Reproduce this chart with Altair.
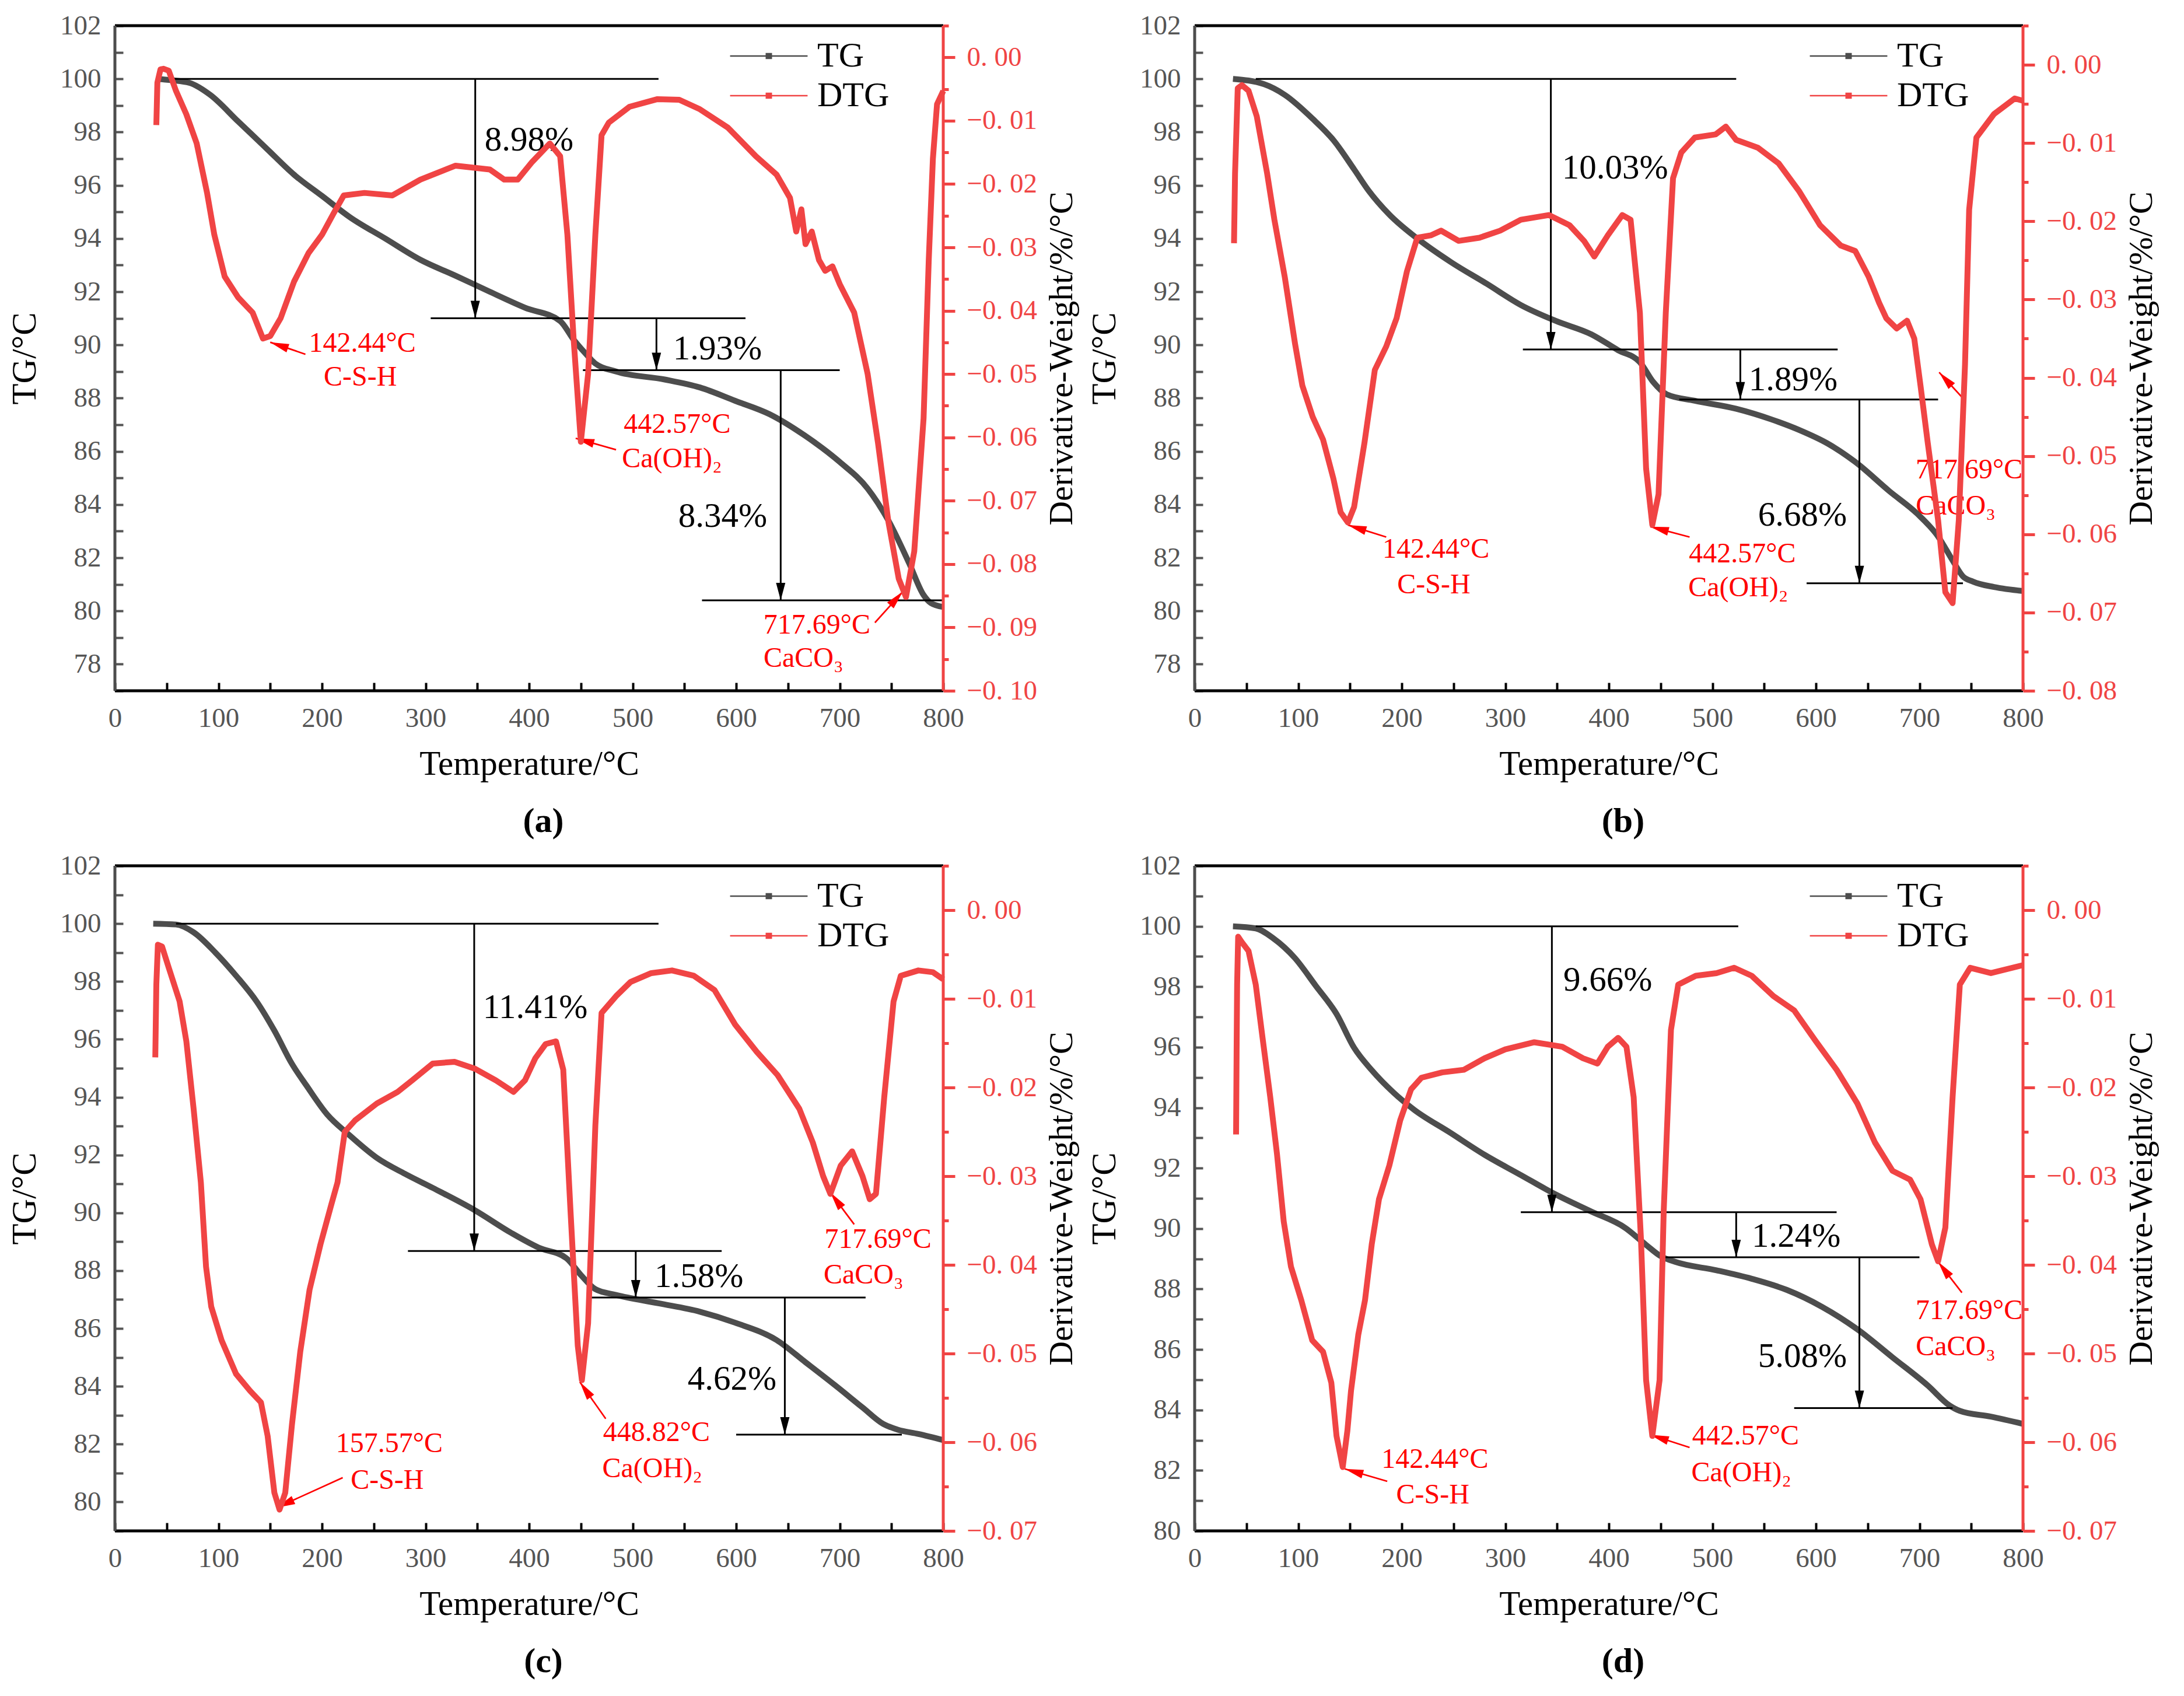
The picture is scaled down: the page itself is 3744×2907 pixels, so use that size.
import math
import altair as alt
import pandas as pd

FONT = "Liberation Serif"
W, H = 1420, 1140
TG_COLOR = "#4d4d4d"
DTG_COLOR = "#f04444"
NOTE_RED = "#ff0000"
AX_GRAY = "#555555"

# ---------------- (a) ----------------
A_TG_T = [40, 55, 72, 92, 119, 146, 173, 200, 227, 261, 295, 329, 362, 396, 430, 443, 454, 464, 484,
          531, 565, 599, 632, 666, 700, 727, 747, 767, 781, 788, 800]
A_TG = [100.0, 99.95, 99.85, 99.4, 98.4, 97.4, 96.4, 95.6, 94.8, 94.0, 93.2, 92.6, 92.0, 91.4, 90.9, 90.2,
        89.7, 89.3, 89.0, 88.7, 88.4, 87.9, 87.4, 86.6, 85.6, 84.6, 83.4, 81.8, 80.6, 80.3, 80.15]
A_DTG_T = [40, 41, 44, 47, 52, 59, 69, 79, 89, 96, 106, 119, 133, 143, 150, 160, 173, 187, 200, 211, 221,
           241, 268, 295, 329, 362, 376, 389, 403, 420, 430, 437, 443, 450, 457, 464, 470, 477, 497, 524,
           545, 565, 592, 619, 639, 652, 658, 663, 667, 673, 680, 686, 693, 700, 714, 727, 737, 747, 757,
           764, 772, 781, 786, 790, 794, 800]
A_DTG = [-0.0107, -0.004, -0.0019, -0.0018, -0.0021, -0.0053, -0.009, -0.0136, -0.0214, -0.028, -0.0346,
         -0.0379, -0.0403, -0.0444, -0.044, -0.0412, -0.0354, -0.0309, -0.028, -0.0247, -0.0218, -0.0214,
         -0.0218, -0.0193, -0.0171, -0.0177, -0.0193, -0.0193, -0.0165, -0.0136, -0.0156, -0.028, -0.0444,
         -0.0607, -0.050, -0.028, -0.0123, -0.0103, -0.0078, -0.0066, -0.0067, -0.0082, -0.0111, -0.0156,
         -0.0185, -0.0222, -0.0275, -0.0240, -0.0295, -0.0275, -0.032, -0.0337, -0.0330, -0.0358, -0.0403,
         -0.050, -0.0609, -0.0733, -0.0823, -0.0852, -0.078, -0.057, -0.032, -0.016, -0.0074, -0.0053]
A_STEP_X0 = [52, 305, 452, 567]
A_STEP_X1 = [525, 609, 700, 800]
A_STEP_Y = [100, 91.0, 89.05, 80.4]
A_ARROW_X = [348, 523, 643]
A_PCT = ["8.98%", "1.93%", "8.34%"]
A_PCT_X = [400, 582, 587]
A_PCT_Y = [97.7, 89.85, 83.55]
A_NOTE = ["142.44°C", "C-S-H", "442.57°C", "Ca(OH)₂", "717.69°C", "CaCO₃"]
A_NOTE_X = [239, 237, 543, 538, 678, 665]
A_NOTE_Y = [90.05, 88.77, 87.0, 85.7, 79.46, 78.2]
A_PTR_X0 = [184, 484, 734]
A_PTR_Y0 = [89.65, 86.06, 79.56]
A_PTR_X1 = [150, 445, 761]
A_PTR_Y1 = [90.1, 86.49, 80.73]

# ---------------- (b) ----------------
B_TG_T = [37, 67, 87, 114, 134, 154, 168, 188, 215, 248, 282, 315, 349, 383, 409, 430, 443, 456, 483, 523,
          557, 584, 611, 638, 671, 698, 718, 732, 742, 752, 772, 800]
B_TG = [100.0, 99.8, 99.4, 98.5, 97.7, 96.6, 95.8, 94.9, 94.0, 93.1, 92.3, 91.5, 90.9, 90.4, 89.8, 89.35,
        88.6, 88.14, 87.9, 87.6, 87.2, 86.8, 86.3, 85.6, 84.5, 83.65, 82.8, 81.9, 81.3, 81.1, 80.9, 80.75]
B_DTG_T = [38, 38.5, 39, 41.6, 45.6, 52, 60, 70, 77, 87, 97, 104, 114, 124, 134, 141, 148, 154, 164, 174,
           185, 195, 205, 215, 228, 238, 255, 275, 295, 315, 342, 362, 376, 386, 399, 413, 421, 430, 436,
           442, 448, 455, 462, 470, 483, 503, 513, 523, 544, 564, 584, 604, 624, 638, 651, 661, 668, 678,
           688, 695, 701, 708, 718, 725, 732, 738, 744, 748, 755, 772, 792, 800]
B_DTG = [-0.0228, -0.0185, -0.0139, -0.003, -0.0026, -0.0033, -0.0066, -0.0139, -0.0198, -0.0271, -0.0357,
         -0.041, -0.045, -0.0479, -0.0529, -0.0572, -0.0585, -0.0565, -0.0483, -0.039, -0.036, -0.0324,
         -0.0264, -0.0221, -0.0218, -0.0212, -0.0225, -0.0221, -0.0212, -0.0198, -0.0192, -0.0205, -0.0225,
         -0.0245, -0.0218, -0.0192, -0.0198, -0.0317, -0.0516, -0.0588, -0.0549, -0.0317, -0.0145, -0.0112,
         -0.0093, -0.0089, -0.0079, -0.0096, -0.0106, -0.0126, -0.0162, -0.0205, -0.0231, -0.0238, -0.0271,
         -0.0304, -0.0324, -0.0337, -0.0327, -0.035, -0.041, -0.0483, -0.0582, -0.0674, -0.0688, -0.0582,
         -0.0383, -0.0185, -0.0093, -0.0063, -0.0043, -0.0046]
B_STEP_X0 = [59, 317, 468, 591]
B_STEP_X1 = [523, 621, 718, 742]
B_STEP_Y = [100, 89.83, 87.95, 81.04]
B_ARROW_X = [344, 527, 642]
B_PCT = ["10.03%", "1.89%", "6.68%"]
B_PCT_X = [406, 578, 587]
B_PCT_Y = [96.66, 88.68, 83.6]
B_NOTE = ["142.44°C", "C-S-H", "442.57°C", "Ca(OH)₂", "717.69°C", "CaCO₃"]
B_NOTE_X = [233, 231, 529, 525, 748, 735]
B_NOTE_Y = [82.3, 80.98, 82.14, 80.85, 85.3, 83.94]
B_PTR_X0 = [185, 478, 744]
B_PTR_Y0 = [82.78, 82.78, 87.91]
B_PTR_X1 = [148, 440, 719]
B_PTR_Y1 = [83.23, 83.17, 88.97]

# ---------------- (c) ----------------
C_TG_T = [37, 59, 76, 97, 117, 137, 154, 171, 185, 205, 226, 253, 280, 307, 348, 383, 409, 436, 450, 464,
          484, 525, 565, 599, 639, 667, 695, 722, 742, 756, 776, 800]
C_TG = [100.0, 99.97, 99.7, 99.0, 98.2, 97.3, 96.3, 95.15, 94.4, 93.4, 92.7, 91.9, 91.35, 90.86, 90.08,
        89.3, 88.8, 88.43, 87.85, 87.36, 87.16, 86.87, 86.58, 86.2, 85.6, 84.83, 84.05, 83.27, 82.7, 82.5,
        82.35, 82.14]
C_DTG_T = [39, 40, 41.5, 45.5, 52, 62.5, 69, 76, 83, 88, 93, 103, 117, 130.5, 141, 147.5, 154, 159, 164.5,
           171, 179, 188, 198.5, 209, 215, 222, 232, 253, 273, 287, 307, 328, 348, 368, 385, 396, 406, 416,
           426, 433, 440, 447, 451, 457, 464, 470, 484, 498, 518, 538, 559, 579, 599, 620, 640, 661, 674,
           684, 691, 701, 712, 722, 729, 735, 743, 752, 759, 776, 790, 800]
C_DTG = [-0.0166, -0.0084, -0.0039, -0.0041, -0.0065, -0.0103, -0.0148, -0.0224, -0.0307, -0.0402, -0.0447,
         -0.0485, -0.0523, -0.0542, -0.0555, -0.0593, -0.0657, -0.0676, -0.0657, -0.058, -0.0498, -0.0428,
         -0.0377, -0.0332, -0.0307, -0.025, -0.0237, -0.0218, -0.0205, -0.0192, -0.0173, -0.0171, -0.0179,
         -0.0192, -0.0205, -0.0192, -0.0167, -0.0151, -0.0148, -0.018, -0.0339, -0.0491, -0.053, -0.0466,
         -0.0243, -0.0116, -0.0097, -0.0081, -0.0071, -0.0068, -0.0074, -0.009, -0.0129, -0.016, -0.0186,
         -0.0224, -0.0262, -0.03, -0.032, -0.0288, -0.0272, -0.03, -0.0326, -0.032, -0.0211, -0.0103,
         -0.0074, -0.0068, -0.007, -0.0078]
C_STEP_X0 = [59, 283, 459, 600]
C_STEP_X1 = [525, 586, 725, 760]
C_STEP_Y = [100, 88.68, 87.07, 82.33]
C_ARROW_X = [347, 503, 647]
C_PCT = ["11.41%", "1.58%", "4.62%"]
C_PCT_X = [406, 564, 596]
C_PCT_Y = [97.09, 87.79, 84.24]
C_NOTE = ["157.57°C", "C-S-H", "448.82°C", "Ca(OH)₂", "717.69°C", "CaCO₃"]
C_NOTE_X = [265, 263, 523, 519, 737, 723]
C_NOTE_Y = [82.0, 80.74, 82.39, 81.13, 89.07, 87.84]
C_PTR_X0 = [220, 474, 714]
C_PTR_Y0 = [80.84, 82.88, 89.6]
C_PTR_X1 = [156, 449, 691]
C_PTR_Y1 = [79.8, 84.15, 90.7]

# ---------------- (d) ----------------
D_TG_T = [37, 59, 76, 96.5, 117, 137, 154, 171, 192, 212, 246, 280, 314, 348, 382, 416, 436, 450, 464, 504,
          538, 572, 606, 640, 674, 708, 729, 739, 769, 800]
D_TG = [100.0, 99.93, 99.6, 98.96, 98.03, 97.1, 95.98, 95.24, 94.5, 93.93, 93.19, 92.44, 91.79, 91.14,
        90.58, 90.02, 89.46, 89.09, 88.9, 88.62, 88.34, 87.97, 87.41, 86.67, 85.74, 84.81, 84.15, 83.97,
        83.78, 83.54]
D_DTG_T = [40, 40.5, 41, 42, 45.5, 52, 59, 66, 73, 79.5, 86, 93, 103, 113.5, 124, 132, 137, 143, 147.5, 151,
           158, 164.5, 171, 178, 188, 198.5, 209, 219, 239, 260, 280, 300, 328, 355, 375, 389, 399, 409,
           417, 424, 431, 436, 442, 449, 453, 460, 467, 484, 504, 521, 538, 559, 579, 600, 620, 640, 657,
           674, 691, 701, 712, 718, 725, 732, 739, 749, 769, 800]
D_DTG = [-0.0253, -0.016, -0.0084, -0.003, -0.0036, -0.0046, -0.0084, -0.0148, -0.0211, -0.0275, -0.0351,
         -0.0402, -0.044, -0.0485, -0.0498, -0.0533, -0.0593, -0.0628, -0.0587, -0.0542, -0.0479, -0.044,
         -0.0377, -0.0326, -0.0288, -0.0237, -0.0202, -0.0189, -0.0183, -0.018, -0.0167, -0.0157, -0.0149,
         -0.0154, -0.0167, -0.0173, -0.0154, -0.0144, -0.0154, -0.0211, -0.037, -0.053, -0.0593, -0.053,
         -0.0339, -0.0135, -0.0084, -0.0074, -0.0071, -0.0065, -0.0074, -0.0097, -0.0113, -0.0148, -0.018,
         -0.0218, -0.0262, -0.0294, -0.0304, -0.0326, -0.0377, -0.0396, -0.0358, -0.0211, -0.0084, -0.0065,
         -0.0071, -0.0062]
D_STEP_X0 = [59, 315, 450, 579]
D_STEP_X1 = [525, 620, 700, 732]
D_STEP_Y = [100, 90.54, 89.05, 84.06]
D_ARROW_X = [345, 523, 642]
D_PCT = ["9.66%", "1.24%", "5.08%"]
D_PCT_X = [399, 581, 587]
D_PCT_Y = [98.22, 89.74, 85.77]
D_NOTE = ["142.44°C", "C-S-H", "442.57°C", "Ca(OH)₂", "717.69°C", "CaCO₃"]
D_NOTE_X = [232, 230, 532, 528, 748, 735]
D_NOTE_Y = [82.35, 81.17, 83.13, 81.92, 87.28, 86.07]
D_PTR_X0 = [186, 478, 741]
D_PTR_Y0 = [81.64, 82.76, 87.88]
D_PTR_X1 = [145, 440, 718]
D_PTR_Y1 = [82.05, 83.18, 88.9]

TG_DOMAINS = {"a": [77, 102], "b": [77, 102], "c": [79, 102], "d": [80, 102]}
DTG_DOMAINS = {"a": [-0.10, 0.005], "b": [-0.08, 0.005], "c": [-0.07, 0.005], "d": [-0.07, 0.005]}

DOWN_HEAD = "M0,0L-0.53,-2L0.53,-2Z"
UP_HEAD = "M0,0L-0.47,2L0.47,2Z"
LEG_PATH = ("M-1.82,0H1.82"
            "M-0.15,-0.11H0.15M-0.15,-0.055H0.15M-0.15,0H0.15M-0.15,0.055H0.15M-0.15,0.11H0.15")
MAJOR = "abs(round(datum.value * 1000)) % 10 == 0"

X_AXIS = alt.Axis(
    values=list(range(0, 801, 50)), labelExpr="datum.value % 100 == 0 ? datum.label : ''",
    title="Temperature/°C", offset=-14, tickSize=14, tickWidth=4, tickColor="black",
    domain=False, grid=False, labelFont=FONT, labelFontSize=47, labelColor=AX_GRAY,
    labelPadding=24, labelFlush=False, labelOverlap=False,
    titleFont=FONT, titleFontSize=59, titleFontWeight="normal", titleColor="black", titlePadding=26,
)

LEGEND = alt.Legend(
    title=None, orient="none", legendX=1083, legendY=14, symbolType=LEG_PATH, symbolSize=5329,
    symbolStrokeWidth=2.5, labelFont=FONT, labelFontSize=60, labelColor="black", labelOffset=45,
    rowPadding=0, padding=0,
)
COLOR = alt.Color("s:N", scale=alt.Scale(domain=["TG", "DTG"], range=[TG_COLOR, DTG_COLOR]), legend=LEGEND)


def px(t):
    return t / 800 * W


def py(v, dom):
    return (dom[1] - v) / (dom[1] - dom[0]) * H


def panel(tag, tg_t, tg_v, dtg_t, dtg_v, sx0, sx1, sy, ax, pct, pctx, pcty,
          note, notex, notey, fx0, fy0, fx1, fy1):
    tdom = TG_DOMAINS[tag]
    ddom = DTG_DOMAINS[tag]
    xs = alt.Scale(domain=[0, 800], nice=False, zero=False)
    ys = alt.Scale(domain=tdom, nice=False, zero=False)
    ds = alt.Scale(domain=ddom, nice=False, zero=False)

    tg_axis = alt.Axis(
        values=list(range(tdom[0], 103)), labelExpr="datum.value % 2 == 0 ? datum.label : ''",
        orient="left", offset=-14, tickSize=14, tickWidth=4, tickColor=AX_GRAY, domain=False, grid=False,
        labelFont=FONT, labelFontSize=47, labelColor=AX_GRAY, labelPadding=24,
        title="TG/°C", titleFont=FONT, titleFontSize=59, titleFontWeight="normal", titleColor="black",
        titlePadding=30,
    )
    n = int(round((ddom[1] - ddom[0]) / 0.005))
    dvals = [round(ddom[0] + 0.005 * i, 3) for i in range(n + 1)]
    dtg_axis = alt.Axis(
        values=dvals, orient="right", domain=False, grid=False,
        labelExpr=f"{MAJOR} ? replace(format(datum.value, '.2f'), '.', '. ') : ''",
        tickSize={"condition": {"test": MAJOR, "value": 20}, "value": 9},
        tickWidth=5, tickColor=DTG_COLOR,
        labelFont=FONT, labelFontSize=47, labelColor=DTG_COLOR, labelPadding=20,
        title="Derivative-Weight/%/°C", titleFont=FONT, titleFontSize=58, titleFontWeight="normal",
        titleColor="black", titleAngle=270, titleBaseline="top", titlePadding=14,
    )

    def X(f):
        return alt.X(f"{f}:Q", scale=xs, axis=X_AXIS)

    def Y(f):
        return alt.Y(f"{f}:Q", scale=ys, axis=tg_axis)

    tg_df = pd.DataFrame({"t": tg_t, "v": tg_v, "s": "TG"})
    dtg_df = pd.DataFrame({"t": dtg_t, "v": dtg_v, "s": "DTG"})
    steps = pd.DataFrame({"x0": sx0, "x1": sx1, "y": sy})
    arrows = pd.DataFrame({"x": ax, "y0": sy[:3], "y1": sy[1:]})
    pcts = pd.DataFrame({"x": pctx, "y": pcty, "txt": pct})
    notes = pd.DataFrame({"x": notex, "y": notey, "txt": note})
    angs = []
    for a0, b0, a1, b1 in zip(fx0, fy0, fx1, fy1):
        dx = px(a1) - px(a0)
        dy = py(b1, tdom) - py(b0, tdom)
        angs.append((math.degrees(math.atan2(dx, -dy)) + 360) % 360)
    ptrs = pd.DataFrame({"x0": fx0, "y0": fy0, "x1": fx1, "y1": fy1, "ang": angs})

    tg_line = alt.Chart(tg_df).mark_line(strokeWidth=10, strokeJoin="round", interpolate="monotone").encode(
        x=X("t"), y=Y("v"), color=COLOR)
    step_rules = alt.Chart(steps).mark_rule(color="black", strokeWidth=3).encode(
        x=X("x0"), x2="x1", y=Y("y"))
    arrow_rules = alt.Chart(arrows).mark_rule(color="black", strokeWidth=3).encode(
        x=X("x"), y=Y("y0"), y2="y1")
    arrow_heads = alt.Chart(arrows).mark_point(
        shape=DOWN_HEAD, size=900, filled=True, color="black", opacity=1, strokeWidth=0
    ).encode(x=X("x"), y=Y("y1"))
    pct_text = alt.Chart(pcts).mark_text(
        font=FONT, fontSize=59, color="black", align="center", baseline="middle"
    ).encode(x=X("x"), y=Y("y"), text="txt:N")
    note_text = alt.Chart(notes).mark_text(
        font=FONT, fontSize=48, color=NOTE_RED, align="center", baseline="middle"
    ).encode(x=X("x"), y=Y("y"), text="txt:N")
    ptr_rules = alt.Chart(ptrs).mark_rule(color=NOTE_RED, strokeWidth=2.7).encode(
        x=X("x0"), x2="x1", y=Y("y0"), y2="y1")
    ptr_heads = alt.Chart(ptrs).mark_point(
        shape=UP_HEAD, size=1024, filled=True, color=NOTE_RED, opacity=1, strokeWidth=0
    ).encode(x=X("x1"), y=Y("y1"), angle=alt.Angle("ang:Q", scale=None))

    tg_group = alt.layer(tg_line, step_rules, arrow_rules, arrow_heads, pct_text,
                         note_text, ptr_rules, ptr_heads)

    dtg_line = alt.Chart(dtg_df).mark_line(strokeWidth=10, strokeJoin="round").encode(
        x=X("t"), y=alt.Y("v:Q", scale=ds, axis=dtg_axis), color=COLOR)

    one = pd.DataFrame({"k": [0]})
    frame = alt.layer(
        alt.Chart(one).mark_rule(color="black", strokeWidth=5).encode(
            x=alt.value(0), x2=alt.value(W), y=alt.value(0)),
        alt.Chart(one).mark_rule(color="black", strokeWidth=5).encode(
            x=alt.value(0), x2=alt.value(W), y=alt.value(H)),
        alt.Chart(one).mark_rule(color=TG_COLOR, strokeWidth=5).encode(
            x=alt.value(0), y=alt.value(0), y2=alt.value(H)),
        alt.Chart(one).mark_rule(color=DTG_COLOR, strokeWidth=5).encode(
            x=alt.value(W), y=alt.value(0), y2=alt.value(H)),
    )

    return alt.layer(tg_group, dtg_line, frame).resolve_scale(y="independent").properties(
        width=W, height=H,
        title=alt.TitleParams(f"({tag})", orient="bottom", anchor="middle", frame="bounds",
                              font=FONT, fontSize=60, fontWeight="bold", color="black", offset=40),
    )


pa = panel("a", A_TG_T, A_TG, A_DTG_T, A_DTG, A_STEP_X0, A_STEP_X1, A_STEP_Y, A_ARROW_X,
           A_PCT, A_PCT_X, A_PCT_Y, A_NOTE, A_NOTE_X, A_NOTE_Y, A_PTR_X0, A_PTR_Y0, A_PTR_X1, A_PTR_Y1)
pb = panel("b", B_TG_T, B_TG, B_DTG_T, B_DTG, B_STEP_X0, B_STEP_X1, B_STEP_Y, B_ARROW_X,
           B_PCT, B_PCT_X, B_PCT_Y, B_NOTE, B_NOTE_X, B_NOTE_Y, B_PTR_X0, B_PTR_Y0, B_PTR_X1, B_PTR_Y1)
pc = panel("c", C_TG_T, C_TG, C_DTG_T, C_DTG, C_STEP_X0, C_STEP_X1, C_STEP_Y, C_ARROW_X,
           C_PCT, C_PCT_X, C_PCT_Y, C_NOTE, C_NOTE_X, C_NOTE_Y, C_PTR_X0, C_PTR_Y0, C_PTR_X1, C_PTR_Y1)
pd_ = panel("d", D_TG_T, D_TG, D_DTG_T, D_DTG, D_STEP_X0, D_STEP_X1, D_STEP_Y, D_ARROW_X,
            D_PCT, D_PCT_X, D_PCT_Y, D_NOTE, D_NOTE_X, D_NOTE_Y, D_PTR_X0, D_PTR_Y0, D_PTR_X1, D_PTR_Y1)

top = alt.hconcat(pa, pb, spacing=14).resolve_scale(color="independent")
bottom = alt.hconcat(pc, pd_, spacing=14).resolve_scale(color="independent")
chart = (
    alt.vconcat(top, bottom, spacing=22)
    .resolve_scale(color="independent")
    .properties(padding={"left": 5, "top": 12, "right": 5, "bottom": 5}, background="white")
    .configure_view(stroke=None)
)

chart.save("out.html", embed_options={"renderer": "svg", "actions": False})
